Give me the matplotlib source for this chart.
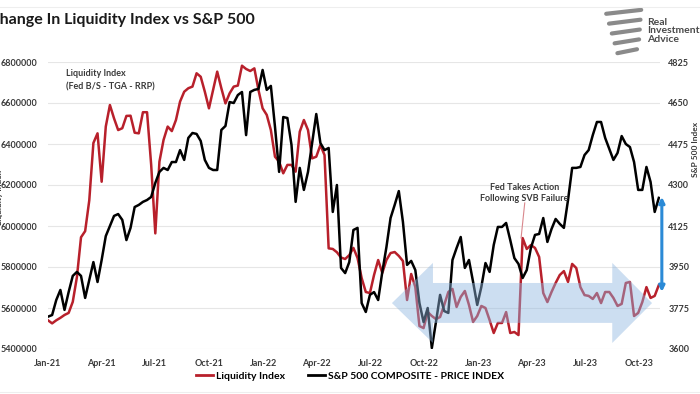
import numpy as np
import pandas as pd
import matplotlib
matplotlib.use("Agg")
import matplotlib.pyplot as plt
import matplotlib.dates as mdates
import matplotlib.patches as mpatches
from matplotlib.lines import Line2D

plt.rcParams['font.family'] = ['Lato', 'DejaVu Sans']

# weekly points, Jan 2021 - Oct 2023
dates = pd.date_range('2021-01-01', periods=149, freq='W-FRI')

# Liquidity index (Fed B/S - TGA - RRP), thousands
liquidity_k = [
    5540, 5525, 5540, 5552, 5566, 5576, 5630, 5750, 5945, 5975,
    6125, 6405, 6452, 6216, 6485, 6590, 6525, 6468, 6477, 6537,
    6538, 6455, 6452, 6555, 6555, 6298, 5964, 6314, 6420, 6485,
    6463, 6517, 6607, 6655, 6672, 6680, 6745, 6728, 6655, 6574,
    6663, 6753, 6672, 6598, 6647, 6680, 6685, 6782, 6766, 6756,
    6769, 6663, 6574, 6542, 6468, 6338, 6314, 6257, 6298, 6298,
    6265, 6460, 6517, 6468, 6330, 6338, 6395, 6346, 5891, 5888,
    5872, 5846, 5839, 5858, 5893, 5844, 5746, 5678, 5673, 5761,
    5834, 5771, 5834, 5868, 5873, 5854, 5829, 5639, 5766, 5702,
    5512, 5502, 5580, 5561, 5546, 5556, 5615, 5678, 5693, 5605,
    5654, 5683, 5615, 5532, 5561, 5610, 5600, 5541, 5478, 5527,
    5527, 5580, 5478, 5483, 5468, 5941, 5888, 5907, 5893, 5849,
    5673, 5629, 5678, 5722, 5761, 5780, 5727, 5815, 5795, 5702,
    5663, 5659, 5644, 5673, 5624, 5678, 5678, 5649, 5610, 5620,
    5722, 5727, 5561, 5576, 5629, 5702, 5649, 5659, 5712,
]

# S&P 500 composite price index
spx = [
    3738, 3745, 3809, 3852, 3767, 3843, 3912, 3929, 3912, 3818,
    3895, 3971, 3886, 3980, 4082, 4125, 4168, 4176, 4151, 4065,
    4117, 4206, 4215, 4228, 4236, 4249, 4309, 4356, 4373, 4364,
    4398, 4398, 4449, 4407, 4501, 4522, 4518, 4488, 4407, 4373,
    4364, 4364, 4535, 4552, 4654, 4650, 4684, 4697, 4513, 4697,
    4706, 4710, 4791, 4706, 4723, 4548, 4356, 4590, 4586, 4471,
    4228, 4373, 4279, 4356, 4479, 4603, 4479, 4449, 4458, 4185,
    4300, 3946, 3924, 3971, 4108, 4117, 3796, 3758, 3831, 3843,
    3809, 3929, 4035, 4159, 4215, 4274, 4142, 3959, 3976, 3937,
    3796, 3715, 3775, 3604, 3715, 3831, 3762, 3754, 3980, 4031,
    4078, 3946, 3980, 3886, 3788, 3865, 3967, 3929, 4044, 4121,
    4121, 4138, 4065, 3988, 3963, 3903, 3937, 4031, 4087, 4091,
    4159, 4057, 4112, 4155, 4134, 4117, 4236, 4373, 4373, 4377,
    4428, 4449, 4513, 4569, 4569, 4501, 4454, 4407, 4437, 4509,
    4475, 4462, 4398, 4279, 4279, 4377, 4313, 4185, 4245,
]

left_ticks = [5400000, 5600000, 5800000, 6000000, 6200000, 6400000, 6600000, 6800000]
right_ticks = [3600, 3775, 3950, 4125, 4300, 4475, 4650, 4825]

RED = '#b8202b'
TXT = '#3a3a3a'

fig = plt.figure(figsize=(7, 3.94), dpi=100)
ax = fig.add_axes([48 / 700, 45 / 394, 612 / 700, 287 / 394])
ax2 = ax.twinx()

ax.plot(dates, np.array(liquidity_k) * 1000, color=RED, lw=1.8, zorder=3)
ax2.plot(dates, spx, color='black', lw=1.8, zorder=3)

ax.set_xlim(pd.Timestamp('2021-01-01'), pd.Timestamp('2023-11-05'))
ax.set_ylim(5400000, 6800000)
ax2.set_ylim(3600, 4825)
ax.set_yticks(left_ticks)
ax.set_yticklabels([str(v) for v in left_ticks])
ax2.set_yticks(right_ticks)

ax.xaxis.set_major_locator(mdates.MonthLocator(bymonth=[1, 4, 7, 10]))
ax.xaxis.set_major_formatter(mdates.DateFormatter('%b-%y'))

ax.grid(axis='y', color='#e6e6e6', lw=0.8)
ax.set_axisbelow(True)
for a in (ax, ax2):
    for s in a.spines.values():
        s.set_visible(False)
    a.tick_params(length=0, labelsize=6.5, labelcolor=TXT)
ax.tick_params(axis='y', pad=8)
ax.tick_params(axis='x', pad=7)
ax2.tick_params(axis='y', pad=6)
for lab in ax.get_xticklabels() + ax.get_yticklabels() + ax2.get_yticklabels():
    lab.set_fontweight('bold')

# shaded double arrow across the range
arrow_pts = [(0.562, 0.160), (0.629, 0.300), (0.629, 0.230), (0.922, 0.230),
             (0.922, 0.300), (0.987, 0.160), (0.922, 0.021), (0.922, 0.091),
             (0.629, 0.091), (0.629, 0.021)]
ax2.add_patch(mpatches.Polygon(arrow_pts, closed=True, transform=ax2.transAxes,
                               facecolor='#8fb6e0', edgecolor='none', alpha=0.45,
                               zorder=5))

# blue gap marker on the right
ax2.annotate('', xy=(1.003, 0.530), xytext=(1.003, 0.199),
             xycoords='axes fraction', textcoords='axes fraction',
             arrowprops=dict(arrowstyle='<|-|>', color='#2b8ad6', lw=2.2,
                             mutation_scale=8, shrinkA=0, shrinkB=0),
             annotation_clip=False, zorder=6)

ax2.text(0.029, 0.975, 'Liquidity Index\n(Fed B/S - TGA - RRP)', transform=ax2.transAxes,
         ha='left', va='top', fontsize=6.5, fontweight='bold', color=TXT,
         linespacing=1.6)
ax2.text(0.778, 0.545, 'Fed Takes Action\nFollowing SVB Failure', transform=ax2.transAxes,
         ha='center', va='center', fontsize=6.5, fontweight='bold', color=TXT,
         linespacing=1.3)
ax2.plot([0.779, 0.773], [0.509, 0.387], transform=ax2.transAxes, color='#d9878c',
         lw=0.8, zorder=4)

# title, cut on the left as in the source
fig.text(-0.016, 0.948, 'Change In Liquidity Index vs S&P 500', ha='left', va='center',
         fontsize=11.5, fontweight='bold', color='#1a1a1a')
fig.text(0.994, 0.62, 'S&P 500 Index', rotation=90, ha='center', va='center',
         fontsize=6, fontweight='bold', color=TXT)
fig.text(0.0, 0.50, 'Liquidity Index', rotation=90, ha='center', va='center',
         fontsize=6, fontweight='bold', color=TXT)

# logo
for k, (y0, ln) in enumerate([(0.965, 0.05), (0.94, 0.045), (0.915, 0.04),
                             (0.89, 0.035), (0.865, 0.028)]):
    fig.add_artist(Line2D([0.866 + k * 0.004, 0.866 + k * 0.004 + ln], [y0, y0 + 0.01],
                          color='#8a8a8a', lw=3, solid_capstyle='round'))
fig.text(0.925, 0.955, 'Real\nInvestment\nAdvice', ha='left', va='top', fontsize=7.5,
         fontweight='bold', color='#4a4a4a', linespacing=0.95)

# frame rules
fig.add_artist(Line2D([0, 1], [0.982, 0.982], color='#eeeeee', lw=0.8))
fig.add_artist(Line2D([0, 1], [0.006, 0.006], color='#eeeeee', lw=0.8))

handles = [Line2D([], [], color=RED, lw=2),
           Line2D([], [], color='black', lw=2)]
fig.legend(handles, ['Liquidity Index', 'S&P 500 COMPOSITE - PRICE INDEX'],
           loc='center', bbox_to_anchor=(0.5, 0.045), ncol=2, frameon=False,
           prop={'size': 7.5, 'weight': 'bold'}, handlelength=1.6, handletextpad=0.3,
           columnspacing=2.2)

fig.savefig('out.png', dpi=100)
